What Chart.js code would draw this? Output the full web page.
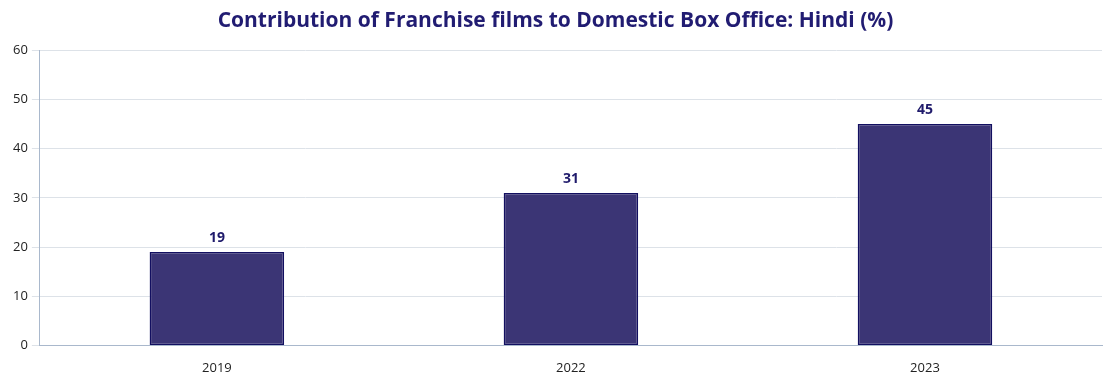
<!DOCTYPE html>
<html lang="en">
<head>
<meta charset="UTF-8">
<title>Franchise films contribution</title>
<style>
    html, body {
        margin: 0;
        padding: 0;
        background: white;
        width: 1110px;
        height: 384px;
        overflow: hidden;
    }
    .chart-box {
        width: 1110px;
        height: 384px;
    }
</style>
<script src="https://cdn.jsdelivr.net/npm/chart.js@4.4.1/dist/chart.umd.min.js"></script>
</head>
<body>
<div class="chart-box"><canvas id="myChart"></canvas></div>
<script>
    const years = ['2019', '2022', '2023'];
    const franchiseShare = [19, 31, 45];
    const yTicks = [0, 10, 20, 30, 40, 50, 60];

    // draws the value above each bar
    const barLabels = {
        id: 'barLabels',
        afterDatasetsDraw(chart) {
            const ctx = chart.ctx;
            const meta = chart.getDatasetMeta(0);
            ctx.save();
            ctx.font = 'bold 14px "Open Sans", sans-serif';
            ctx.fillStyle = '#1f1a6b';
            ctx.textAlign = 'center';
            ctx.textBaseline = 'bottom';
            meta.data.forEach((bar, i) => {
                ctx.fillText(franchiseShare[i], bar.x, bar.y - 7);
            });
            ctx.restore();
        }
    };

    const ctx = document.getElementById('myChart').getContext('2d');
    new Chart(ctx, {
        type: 'bar',
        data: {
            labels: years,
            datasets: [{
                data: franchiseShare,
                backgroundColor: '#3b3575',
                borderColor: '#120f60',
                borderWidth: 1.5,
                borderSkipped: false,
                categoryPercentage: 1,
                barPercentage: 0.38
            }]
        },
        options: {
            responsive: true,
            maintainAspectRatio: false,
            animation: false,
            layout: {
                padding: { left: 9, right: 8, top: 0, bottom: 1 }
            },
            scales: {
                x: {
                    grid: { display: false },
                    border: { color: '#a9b8cc', width: 1 },
                    ticks: {
                        color: '#222',
                        font: { family: '"Open Sans", sans-serif', size: 13 },
                        padding: 7
                    }
                },
                y: {
                    min: 0,
                    max: 60,
                    afterBuildTicks(axis) {
                        axis.ticks = yTicks.map(v => ({ value: v }));
                    },
                    grid: {
                        color: '#dde2e8',
                        tickLength: 8,
                        tickColor: '#dde2e8'
                    },
                    border: { color: '#a9b8cc', width: 1 },
                    ticks: {
                        color: '#222',
                        font: { family: '"Open Sans", sans-serif', size: 13 },
                        padding: 4
                    }
                }
            },
            plugins: {
                legend: { display: false },
                tooltip: { enabled: false },
                title: {
                    display: true,
                    text: 'Contribution of Franchise films to Domestic Box Office: Hindi (%)',
                    color: '#211c72',
                    font: { family: '"Open Sans", sans-serif', size: 21, weight: 'bold' },
                    padding: { top: 8, bottom: 17 }
                }
            }
        },
        plugins: [barLabels]
    });
</script>
</body>
</html>
